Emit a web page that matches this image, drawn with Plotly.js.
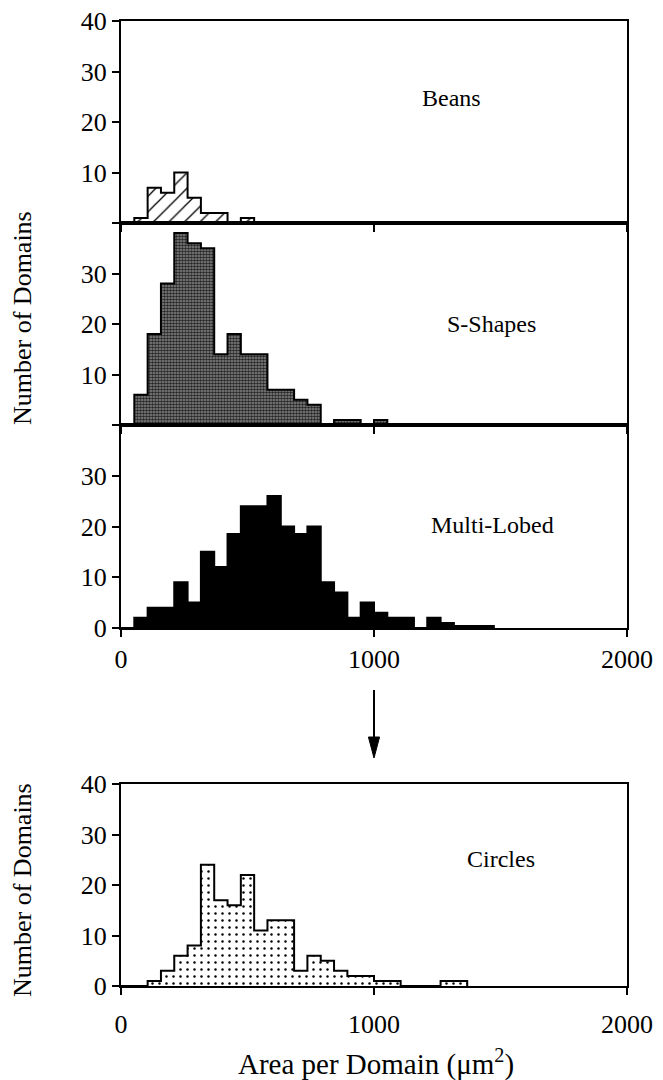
<!DOCTYPE html>
<html>
<head>
<meta charset="utf-8">
<script src="https://cdn.plot.ly/plotly-3.0.1.min.js"></script>
<style>html,body{margin:0;padding:0;background:#fff;}</style>
</head>
<body>
<div id="chart" style="width:663px;height:1080px;"></div>
<script>
// Bin edges (area per domain, µm²)
const binEdges = [0, 52.6, 105.3, 157.9, 210.5, 263.2, 315.8, 368.4, 421.1, 473.7,
  526.3, 578.9, 631.6, 684.2, 736.8, 789.5, 842.1, 894.7, 947.4, 1000,
  1052.6, 1105.3, 1157.9, 1210.5, 1263.2, 1315.8, 1368.4, 1421.1, 1473.7, 1526.3];

// Counts per bin (starting at the first bin, 0–52.6)
const beans      = [0, 1, 7, 6, 10, 5, 2, 2, 0, 1];
const sShapes    = [0, 6, 18, 28, 38, 36, 35, 14, 18, 14, 14, 7, 7, 5, 4, 0, 1, 1, 0, 1];
const multiLobed = [0, 2, 4, 4, 9, 5, 15, 12, 18.5, 24, 24, 26, 20, 18.5, 20, 9, 7, 2, 5, 3, 2, 2, 0, 2, 1, 0.4, 0.4, 0.4];
const circles    = [0, 0, 1, 3, 6, 8, 24, 17, 16, 22, 11, 13, 13, 3, 6, 5, 3, 2, 2, 1, 1, 0, 0, 0, 1, 1];

const panelNames = ["Beans", "S-Shapes", "Multi-Lobed", "Circles"];
const xTicks = [0, 1000, 2000];
const yTicks = [0, 10, 20, 30, 40];

function stepTrace(counts, xa, ya, fillcolor, pattern) {
  const t = {
    type: 'scatter', mode: 'lines',
    x: binEdges.slice(0, counts.length + 1),
    y: counts.concat([0]),
    xaxis: xa, yaxis: ya,
    line: {shape: 'hv', color: 'black', width: 2},
    fill: 'tozeroy', fillcolor: fillcolor,
    hoverinfo: 'skip'
  };
  if (pattern) t.fillpattern = pattern;
  return t;
}

const traces = [
  stepTrace(beans, 'x', 'y', 'white', {shape: '/', size: 11, solidity: 0.12, fgcolor: 'black', bgcolor: 'white'}),
  stepTrace(sShapes, 'x2', 'y2', '#5e5e5e', {shape: '.', size: 3, solidity: 0.6, fgcolor: '#262626', bgcolor: '#8c8c8c'}),
  stepTrace(multiLobed, 'x3', 'y3', 'black', null),
  stepTrace(circles, 'x4', 'y4', 'white', {shape: '.', size: 7, solidity: 0.1, fgcolor: 'black', bgcolor: 'white'})
];

const H = 1080;
function dom(top, bottom) { return [1 - bottom / H, 1 - top / H]; }

const tickFont = {family: 'Liberation Serif', size: 26, color: 'black'};

function xAxis(anchor, labels, standoff) {
  const a = {
    anchor: anchor, domain: [0, 1], range: [0, 2000],
    tickmode: 'array', tickvals: xTicks, ticktext: xTicks.map(String),
    showticklabels: labels, ticks: 'outside', ticklen: 7, tickwidth: 2, tickcolor: 'black',
    showline: true, linewidth: 2, linecolor: 'black', mirror: true,
    showgrid: false, zeroline: false, fixedrange: true,
    tickfont: tickFont
  };
  if (standoff !== undefined) a.ticklabelstandoff = standoff;
  return a;
}
function yAxis(anchor, domain, text) {
  return {
    anchor: anchor, domain: domain, range: [0, 40],
    tickmode: 'array', tickvals: yTicks, ticktext: text,
    ticks: 'outside', ticklen: 7, tickwidth: 2, tickcolor: 'black',
    showline: true, linewidth: 2, linecolor: 'black', mirror: true,
    showgrid: false, zeroline: false, fixedrange: true,
    tickfont: tickFont
  };
}

const labelFont = {family: 'Liberation Serif', size: 24, color: 'black'};
const titleFont = {family: 'Liberation Serif', size: 26, color: 'black'};

function ann(o) { return Object.assign({showarrow: false, xanchor: 'center', yanchor: 'middle'}, o); }

const layout = {
  width: 663, height: 1080,
  margin: {l: 121, r: 36, t: 0, b: 0},
  paper_bgcolor: 'white', plot_bgcolor: 'white',
  showlegend: false,
  font: {family: 'Liberation Serif', size: 24, color: 'black'},
  xaxis:  xAxis('y', false),
  xaxis2: xAxis('y2', false),
  xaxis3: xAxis('y3', true),
  xaxis4: xAxis('y4', true, 7),
  yaxis:  yAxis('x', dom(21, 223), ['', '10', '20', '30', '40']),
  yaxis2: yAxis('x2', dom(223, 425), ['', '10', '20', '30', '']),
  yaxis3: yAxis('x3', dom(425, 628), ['0', '10', '20', '30', '']),
  yaxis4: yAxis('x4', dom(784, 986), ['0', '10', '20', '30', '40']),
  annotations: [
    ann({text: panelNames[0], xref: 'x', yref: 'y', x: 1305, y: 24.7, font: labelFont}),
    ann({text: panelNames[1], xref: 'x2', yref: 'y2', x: 1464, y: 20.1, font: labelFont}),
    ann({text: panelNames[2], xref: 'x3', yref: 'y3', x: 1467, y: 20.3, font: labelFont}),
    ann({text: panelNames[3], xref: 'x4', yref: 'y4', x: 1503, y: 25.1, font: labelFont}),
    ann({text: 'Number of Domains', xref: 'paper', yref: 'paper', x: (22 - 121) / 506, y: 1 - 318 / H,
     textangle: -90, font: titleFont}),
    ann({text: 'Number of Domains', xref: 'paper', yref: 'paper', x: (22 - 121) / 506, y: 1 - 890 / H,
     textangle: -90, font: titleFont}),
    ann({text: 'Area per Domain (\u03bcm<sup>2</sup>)', xref: 'paper', yref: 'paper', x: (376 - 121) / 506, y: 1 - 1062 / H,
     font: {family: 'Liberation Serif', size: 29, color: 'black'}})
  ],
  shapes: [
    {type: 'line', xref: 'x4', yref: 'paper', x0: 1000, x1: 1000, y0: 1 - 690 / H, y1: 1 - 740 / H,
     line: {color: 'black', width: 2}},
    {type: 'path', xref: 'x4', yref: 'paper',
     path: 'M 978,' + (1 - 737 / H) + ' L 1022,' + (1 - 737 / H) + ' L 1000,' + (1 - 758 / H) + ' Z',
     fillcolor: 'black', line: {color: 'black', width: 1}}
  ]
};

Plotly.newPlot('chart', traces, layout, {staticPlot: true, displayModeBar: false});
</script>
</body>
</html>
